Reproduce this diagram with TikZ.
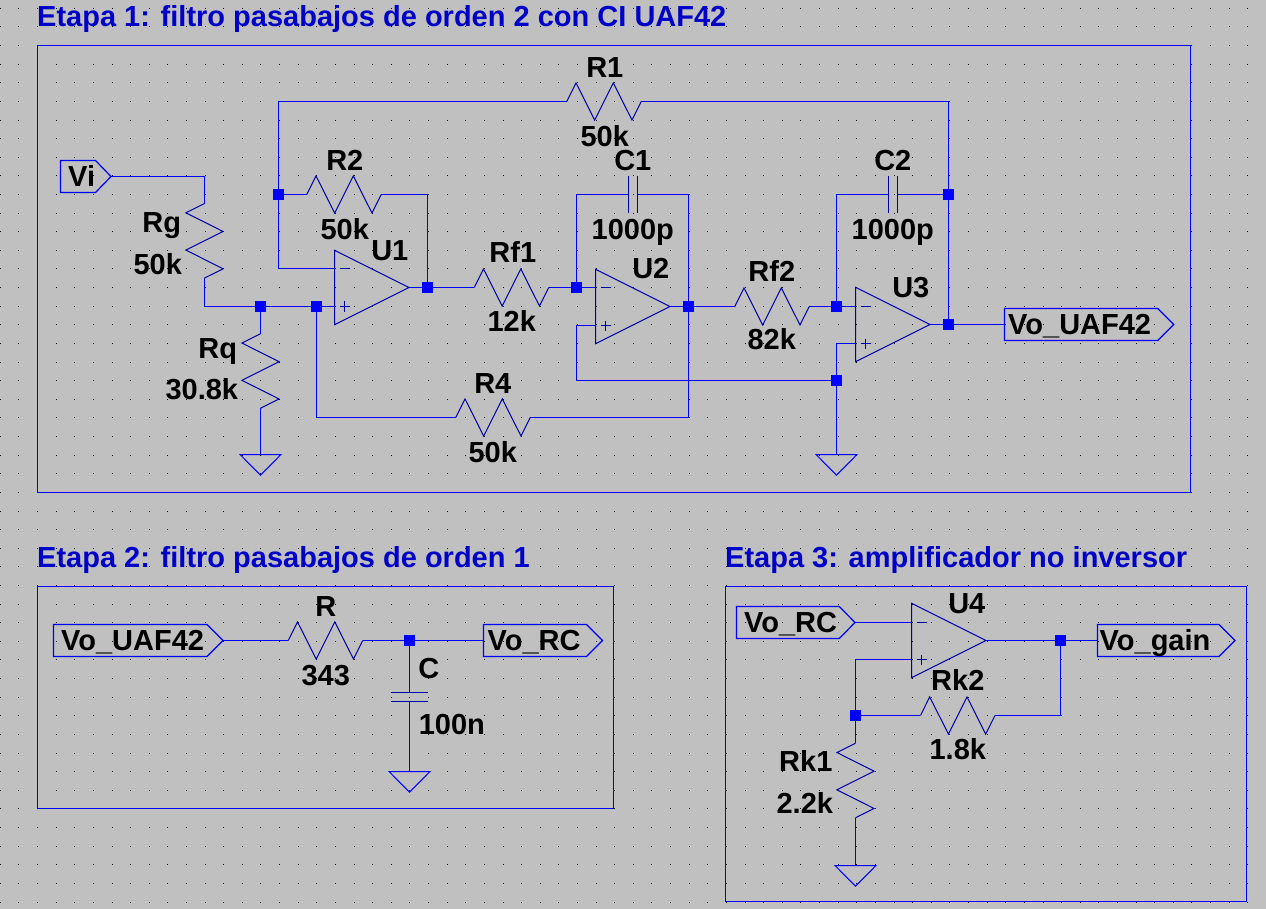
\documentclass[tikz,border=0pt]{standalone}
\usepackage{fontspec}
\setmainfont{Liberation Sans}
\definecolor{bgc}{RGB}{192,192,192}
\definecolor{wirec}{RGB}{0,0,255}
\definecolor{symc}{RGB}{0,0,170}
\definecolor{titlec}{RGB}{0,0,200}
\tikzset{
  wire/.style={draw=wirec,line width=1.2pt},
  sym/.style={draw=symc,line width=1pt,line join=miter},
  framebox/.style={draw=wirec,line width=1.2pt},
  flagline/.style={draw=wirec,line width=1.2pt},
  junction/.style={fill=wirec,draw=none,minimum size=11pt,inner sep=0pt,rectangle},
  lbl/.style={anchor=base,inner sep=0pt,text=black,font=\fontsize{29}{30}\selectfont\bfseries},
  ttl/.style={anchor=base west,inner sep=0pt,text=titlec,font=\fontsize{29}{30}\selectfont\bfseries},
  hres/.pic={
    \coordinate (-a) at (-37.25,0); \coordinate (-b) at (37.25,0);
    \draw[sym] (-37.25,0)--(-28,-18.6)--(-9.3,18.6)--(9.3,-18.6)--(28,18.6)--(37.25,0);
  },
  vres/.pic={
    \coordinate (-a) at (0,-37.25); \coordinate (-b) at (0,37.25);
    \draw[sym] (0,-37.25)--(-18.6,-28)--(18.6,-9.3)--(-18.6,9.3)--(18.6,28)--(0,37.25);
  },
  hcap/.pic={
    \coordinate (-a) at (-4.5,0); \coordinate (-b) at (4.5,0);
    \draw[sym] (-4.5,-18.8)--(-4.5,18.8) (4.5,-18.8)--(4.5,18.8);
  },
  vcap/.pic={
    \coordinate (-a) at (0,-4.5); \coordinate (-b) at (0,4.5);
    \draw[sym] (-18.8,-4.5)--(18.8,-4.5) (-18.8,4.5)--(18.8,4.5);
  },
  gndsym/.pic={
    \coordinate (-t) at (0,0);
    \draw[flagline,line width=1pt] (-20.5,0)--(20.5,0)--(0,20.7)--cycle;
  }
}
% \opampsym{name}{left x}{y minus}{y centre}{y plus}
\newcommand{\opampsym}[5]{%
  \coordinate (#1-m) at (#2,#3); \coordinate (#1-p) at (#2,#5); \coordinate (#1-o) at (#2+74.5,#4);
  \draw[sym] (#2,#4-37.25)--(#2+74.5,#4)--(#2,#4+37.25)--cycle;
  \draw[sym] (#2+5,#3)--(#2+15,#3) (#2+5,#5)--(#2+15,#5) (#2+10,#5-5)--(#2+10,#5+5);
}
% \flagsym{name}{left}{shoulder}{tip}{y}{text left}{text}
\newcommand{\flagsym}[7]{%
  \draw[flagline] (#2,#5-16)--(#3,#5-16)--(#4,#5)--(#3,#5+16)--(#2,#5+16)--cycle;
  \coordinate (#1-in) at (#2,#5); \coordinate (#1-tip) at (#4,#5);
  \node[lbl,anchor=base west] (#1) at (#6,#5+10) {#7};
}
\newcommand{\lbl}[4]{\node[lbl] (#1) at (#2+0.8,#3+0.6) {#4};}
\begin{document}
\begin{tikzpicture}[x=1pt,y=-1pt]
\useasboundingbox (0,0) rectangle (1266,909);
\fill[bgc] (0,0) rectangle (1266,909);
% grid dots
\foreach \i in {0,...,68}{
  \foreach \j in {0,...,48}{
    \pgfmathsetmacro{\gx}{round(18.62*\i-0.2)}
    \pgfmathsetmacro{\gy}{round(7.8+18.62*\j)}
    \fill[black] (\gx,\gy) rectangle ++(1,1);
  }
}
% frames
\draw[framebox] (37.5,45.5) rectangle (1190.5,492.5);
\draw[framebox] (37.5,586.5) rectangle (613.5,808.5);
\draw[framebox] (725.5,586.5) rectangle (1246.5,901.5);
% titles
\node[ttl] (t1) at (37,27) {Etapa 1: filtro pasabajos de orden 2 con CI UAF42};
\node[ttl] (t2) at (37,567) {Etapa 2: filtro pasabajos de orden 1};
\node[ttl] (t3) at (725,567) {Etapa 3: amplificador no inversor};
% junctions stage 1
\node[junction] (j1) at (260.5,306.5) {};
\node[junction] (j2) at (316.5,306.5) {};
\node[junction] (j3) at (278.5,194.5) {};
\node[junction] (j4) at (427.5,287.5) {};
\node[junction] (j5) at (576.5,287.5) {};
\node[junction] (j6) at (688.5,306.5) {};
\node[junction] (j7) at (836.5,306.5) {};
\node[junction] (j8) at (948.5,194.5) {};
\node[junction] (j9) at (948.5,324.5) {};
\node[junction] (j10) at (836.5,380.5) {};
% junctions stage 2, 3
\node[junction] (j11) at (409.5,640.5) {};
\node[junction] (j12) at (855.5,715.5) {};
\node[junction] (j13) at (1060.5,640.5) {};
% components
\pic (R1) at (604,101.5) {hres};
\pic (R2) at (344,194.5) {hres};
\pic (Rf1) at (511.5,287.5) {hres};
\pic (Rf2) at (772,306.5) {hres};
\pic (R4) at (493,417.5) {hres};
\pic (Rg) at (204.5,240.8) {vres};
\pic (Rq) at (260.5,371) {vres};
\pic (C1) at (632.5,194.5) {hcap};
\pic (C2) at (893,194.5) {hcap};
\opampsym{U1}{334.5}{268.5}{287.5}{306.5}
\opampsym{U2}{595.5}{287.5}{306.5}{325.5}
\opampsym{U3}{855.5}{306.5}{324.5}{343.5}
\pic (G1) at (260.5,454.5) {gndsym};
\pic (G2) at (836.5,454.5) {gndsym};
\pic (R) at (325.5,640.5) {hres};
\pic (C) at (409.5,696.8) {vcap};
\pic (G3) at (409.5,771.5) {gndsym};
\opampsym{U4}{911.5}{622.5}{640.5}{659.5}
\pic (Rk2) at (957.7,715.5) {hres};
\pic (Rk1) at (855.5,780.5) {vres};
\pic (G4) at (855.5,865.5) {gndsym};
% flags
\flagsym{fVi}{60.5}{95.5}{111}{176.5}{68}{Vi}
\flagsym{fUout}{1004.5}{1157.7}{1173.7}{324.5}{1008}{Vo\_UAF42}
\flagsym{fUin}{53.5}{207}{223}{640.5}{61}{Vo\_UAF42}
\flagsym{fRCout}{483.5}{586.5}{602.5}{640.5}{487.5}{Vo\_RC}
\flagsym{fRCin}{736.5}{839.3}{855}{622.5}{744}{Vo\_RC}
\flagsym{fGain}{1097.5}{1219}{1235}{640.5}{1099.5}{Vo\_gain}
% wires stage 1
\draw[wire] (fVi-tip) -| (Rg-a);
\draw[wire] (Rg-b) |- (j1.center) -- (j2.center) -- (U1-p);
\draw[wire] (j1.center) -- (Rq-a);
\draw[wire] (Rq-b) -- (G1-t);
\draw[wire] (j2.center) |- (R4-a);
\draw[wire] (R4-b) -| (j6.center);
\draw[wire] (U1-m) -| (j3.center);
\draw[wire] (j3.center) |- (R1-a);
\draw[wire] (R1-b) -| (j8.center);
\draw[wire] (j8.center) -- (j9.center);
\draw[wire] (j3.center) -- (R2-a);
\draw[wire] (R2-b) -| (j4.center);
\draw[wire] (U1-o) -- (j4.center) -- (Rf1-a);
\draw[wire] (Rf1-b) -- (j5.center) -- (U2-m);
\draw[wire] (j5.center) |- (C1-a);
\draw[wire] (C1-b) -| (j6.center);
\draw[wire] (U2-o) -- (j6.center) -- (Rf2-a);
\draw[wire] (Rf2-b) -- (j7.center) -- (U3-m);
\draw[wire] (j7.center) |- (C2-a);
\draw[wire] (C2-b) -- (j8.center);
\draw[wire] (U2-p) -| (576.5,380.5) -- (j10.center);
\draw[wire] (j10.center) -- (G2-t);
\draw[wire] (j10.center) |- (U3-p);
\draw[wire] (U3-o) -- (j9.center) -- (fUout-in);
% wires stage 2
\draw[wire] (fUin-tip) -- (R-a);
\draw[wire] (R-b) -- (j11.center) -- (fRCout-in);
\draw[wire] (j11.center) -- (C-a);
\draw[wire] (C-b) -- (G3-t);
% wires stage 3
\draw[wire] (fRCin-tip) -- (U4-m);
\draw[wire] (U4-p) -| (j12.center);
\draw[wire] (j12.center) -- (Rk2-a);
\draw[wire] (Rk2-b) -| (j13.center);
\draw[wire] (U4-o) -- (j13.center) -- (fGain-in);
\draw[wire] (j12.center) -- (Rk1-a);
\draw[wire] (Rk1-b) -- (G4-t);
% labels
\lbl{lR1}{604}{77}{R1}
\lbl{vR1}{604}{146}{50k}
\lbl{lR2}{344}{170}{R2}
\lbl{vR2}{344}{239}{50k}
\lbl{lU1}{389}{260}{U1}
\lbl{lRf1}{512}{262}{Rf1}
\lbl{vRf1}{511}{331}{12k}
\lbl{lC1}{632}{170}{C1}
\lbl{vC1}{632}{239}{1000p}
\lbl{lU2}{650}{278}{U2}
\lbl{lRf2}{771}{281}{Rf2}
\lbl{vRf2}{771}{349}{82k}
\lbl{lC2}{892}{170}{C2}
\lbl{vC2}{892}{239}{1000p}
\lbl{lU3}{910}{297}{U3}
\lbl{lRg}{161}{232}{Rg}
\lbl{vRg}{157}{274}{50k}
\lbl{lRq}{217}{358}{Rq}
\lbl{vRq}{201}{399}{30.8k}
\lbl{lR4}{492}{393}{R4}
\lbl{vR4}{492}{462}{50k}
\lbl{lR}{325}{616}{R}
\lbl{vR}{325}{685}{343}
\lbl{lC}{428}{678}{C}
\lbl{vC}{451}{734}{100n}
\lbl{lU4}{966}{613}{U4}
\lbl{lRk2}{957}{690}{Rk2}
\lbl{vRk2}{957}{759}{1.8k}
\lbl{lRk1}{805}{771}{Rk1}
\lbl{vRk1}{804}{813}{2.2k}
\end{tikzpicture}
\end{document}
